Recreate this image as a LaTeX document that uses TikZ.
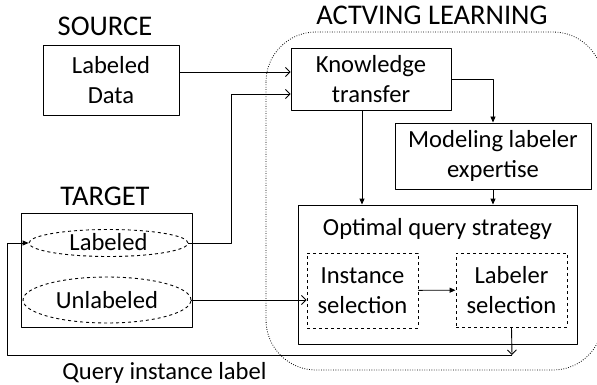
\documentclass[tikz,border=0pt]{standalone}
\usepackage{fontspec}
\setmainfont{Carlito}
\usetikzlibrary{shapes.geometric,arrows.meta}
\begin{document}
\begin{tikzpicture}[x=1pt, y=-1pt, line width=0.9pt, line join=round,
	font=\fontsize{24.6}{29.5}\selectfont,
	open/.style={-{Straight Barb[length=4.5pt,width=9pt]}},
	shut/.style={-{Triangle[length=6pt,width=5pt]}},
	box/.style={draw, align=center, inner sep=0pt},
	dbox/.style={draw, dashed, align=center, inner sep=0pt},
	oval/.style={draw, dashed, ellipse, inner sep=0pt, text depth=0pt},
	lbl/.style={anchor=base, font=\fontsize{28.5}{34}\selectfont}]
	\useasboundingbox (0,0) rectangle (597,385);
	% region of the active learner
	\draw[line width=0.8pt, dash pattern=on 0.8pt off 1.6pt, rounded corners=50pt] (266,32) rectangle (603,370);
	
	\node[lbl] (srclbl) at (105,36) {SOURCE};
	\node[lbl] (tgtlbl) at (105,205) {TARGET};
	\node[lbl] (allbl) at (432,25) {ACTVING LEARNING};
	\node[anchor=base] (qlbl) at (164.5,379) {Query instance label};
	
	\node[box, minimum width=136pt, minimum height=70pt] (src) at (111,80) {Labeled\\Data};
	\node[box, minimum width=160pt, minimum height=62pt] (kt) at (371,79) {Knowledge\\transfer};
	\node[box, minimum width=196pt, minimum height=66pt] (mle) at (493,156) {Modeling labeler\\expertise};
	\node[box, minimum width=279pt, minimum height=139pt] (oqs) at (437.5,274.5) {};
	\node[anchor=base] (oqsname) at (437.5,235) {Optimal query strategy};
	\node[dbox, minimum width=111pt, minimum height=75pt] (ins) at (362.5,290.5) {Instance\\selection};
	\node[dbox, minimum width=111pt, minimum height=74pt] (lsel) at (511.5,290) {Labeler\\selection};
	
	\node[box, minimum width=171pt, minimum height=114pt] (tgt) at (106.5,270) {};
	\node[oval, text height=14pt, minimum width=159pt, minimum height=27pt] (lab) at (108.5,243) {Labeled};
	\node[oval, text height=16pt, minimum width=168pt, minimum height=46pt] (unl) at (107,300) {Unlabeled};
	
	\coordinate (qr) at (512,355);
	\coordinate (ql) at (7,355);
	
	\draw[open] (src.east) ++(0,-8) coordinate (s1) -- (s1 -| kt.west);
	\draw[open] (lab.east) -- ++(43,0) |- ([yshift=-15pt]kt.west);
	\draw[shut] (kt.east) -| (mle.north);
	\draw[shut] ([xshift=-9pt]kt.south) coordinate (k1) -- (k1 |- oqs.north);
	\draw[shut] (mle.south) -- (mle.south |- oqs.north);
	\draw[open] (unl.east) -- (unl.east -| ins.west);
	\draw[shut] (ins) -- (lsel);
	\draw[open] (lsel.south) -- (qr);
	\draw[shut] (qr) -- (ql) |- (lab.west);
\end{tikzpicture}
\end{document}
